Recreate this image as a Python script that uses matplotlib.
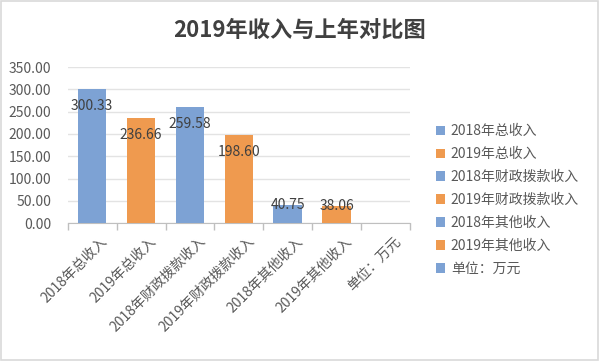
import matplotlib
matplotlib.use("Agg")
import matplotlib.pyplot as plt
from matplotlib.patches import Patch, Rectangle
import numpy as np

plt.rcParams['font.family'] = ['Noto Sans CJK SC', 'DejaVu Sans']

# data
categories = ["2018年总收入", "2019年总收入", "2018年财政拨款收入", "2019年财政拨款收入",
              "2018年其他收入", "2019年其他收入", "单位：万元"]
values = [300.33, 236.66, 259.58, 198.60, 40.75, 38.06, np.nan]
yticks = [0, 50, 100, 150, 200, 250, 300, 350]

BLUE = "#7DA2D4"
ORANGE = "#EF9A4F"
colors = [BLUE, ORANGE, BLUE, ORANGE, BLUE, ORANGE, BLUE]
TEXT = "#595959"

fig = plt.figure(figsize=(6.0, 3.61), dpi=100)
ax = fig.add_axes([0.113, 0.382, 0.57, 0.432])

x = np.arange(len(categories))
ax.bar(x, values, width=0.58, color=colors, zorder=3)

# data labels (inside end for tall bars)
for xi, v in zip(x, values):
    if np.isnan(v):
        continue
    y = v - 38 if v > 100 else v
    ax.text(xi, y, f"{v:.2f}", ha='center', va='center', fontsize=10, color="#404040", zorder=4)

ax.set_xlim(-0.5, len(categories) - 0.5)
ax.set_ylim(0, 350)
ax.set_yticks(yticks)
ax.set_yticklabels([f"{t:.2f}" for t in yticks], fontsize=10, color=TEXT)
ax.tick_params(axis='y', length=0, pad=12)
ax.grid(axis='y', color="#E3E3E3", linewidth=1, zorder=0)

# x ticks at category boundaries, labels at centers
ax.set_xticks(np.arange(-0.5, len(categories)), minor=False)
ax.set_xticklabels([])
ax.tick_params(axis='x', length=5, color="#BFBFBF", width=1)
for xi, lab in zip(x, categories):
    ax.annotate(lab, xy=(xi, 0), xycoords=('data', 'axes fraction'),
                xytext=(6, -8), textcoords='offset points',
                rotation=45, rotation_mode='anchor', ha='right', va='top',
                fontsize=10, color=TEXT)

for s in ['top', 'right', 'left']:
    ax.spines[s].set_visible(False)
ax.spines['bottom'].set_color("#BFBFBF")

fig.text(0.5, 0.915, "2019年收入与上年对比图", ha='center', va='center',
         fontsize=16, fontweight='bold', color="#404040")

handles = [Patch(facecolor=c, edgecolor='none') for c in colors]
fig.legend(handles, categories, loc='upper left', bbox_to_anchor=(0.705, 0.69),
           frameon=False, fontsize=10, handlelength=0.7, handleheight=0.7,
           handletextpad=0.4, labelspacing=0.64, labelcolor=TEXT)

fig.add_artist(Rectangle((0.002, 0.003), 0.995, 0.993, transform=fig.transFigure,
                         fill=False, edgecolor="#D9D9D9", linewidth=1.2))

fig.savefig("out.png", dpi=100)
